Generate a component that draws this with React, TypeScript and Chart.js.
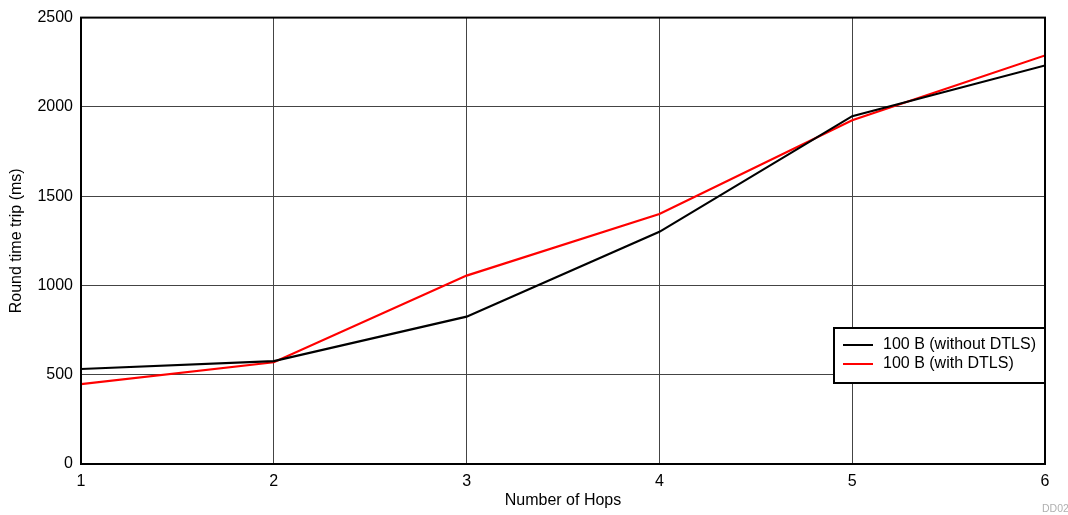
import React, { useEffect, useRef } from "react";
import { Chart, registerables } from "chart.js";

Chart.register(...registerables);

const hops = [1, 2, 3, 4, 5, 6];
const withoutDtls = [532, 576, 825, 1300, 1948, 2232];
const withDtls = [447, 570, 1055, 1400, 1925, 2288];
const seriesLabels = ["100 B (without DTLS)", "100 B (with DTLS)"];
const seriesColors = ["#000000", "#ff0000"];
const yTicks = [0, 500, 1000, 1500, 2000, 2500];
const xTitle = "Number of Hops";
const yTitle = "Round time trip (ms)";
const footnote = "DD02";

const FONT = "'Liberation Sans', Arial, sans-serif";
const FS = 16;

const decorPlugin = {
  id: "decor",
  afterDraw(chart: any) {
    const { ctx, chartArea } = chart;
    const { left, right, top, bottom } = chartArea;
    ctx.save();
    ctx.strokeStyle = "#000";
    ctx.lineWidth = 2;
    ctx.strokeRect(left, top, right - left, bottom - top);
    ctx.fillStyle = "#000";
    ctx.font = `${FS}px ${FONT}`;
    ctx.textAlign = "center";
    ctx.textBaseline = "middle";
    ctx.fillText(xTitle, (left + right) / 2, 501);
    ctx.save();
    ctx.translate(17, (top + bottom) / 2);
    ctx.rotate(-Math.PI / 2);
    ctx.fillText(yTitle, 0, 0);
    ctx.restore();
    ctx.fillStyle = "#b0b0b0";
    ctx.font = `10.5px ${FONT}`;
    ctx.textAlign = "left";
    ctx.fillText(footnote, 1042, 509);
    const bx = 834, by = 328, bw = 211, bh = 55;
    ctx.fillStyle = "#fff";
    ctx.fillRect(bx, by, bw, bh);
    ctx.strokeStyle = "#000";
    ctx.lineWidth = 2;
    ctx.strokeRect(bx, by, bw, bh);
    ctx.font = `${FS}px ${FONT}`;
    ctx.textBaseline = "middle";
    const rows = [345, 364];
    seriesLabels.forEach((lab, i) => {
      ctx.strokeStyle = seriesColors[i];
      ctx.lineWidth = 2;
      ctx.beginPath();
      ctx.moveTo(843, rows[i]);
      ctx.lineTo(873, rows[i]);
      ctx.stroke();
      ctx.fillStyle = "#000";
      ctx.fillText(lab, 883, rows[i]);
    });
    ctx.restore();
  },
};

export default function App() {
  const ref = useRef<HTMLCanvasElement | null>(null);
  useEffect(() => {
    document.body.style.margin = "0";
    const chart = new Chart(ref.current as HTMLCanvasElement, {
      type: "line",
      data: {
        datasets: [
          {
            label: seriesLabels[0],
            data: hops.map((h, i) => ({ x: h, y: withoutDtls[i] })),
            borderColor: seriesColors[0],
            borderWidth: 2.2,
            pointRadius: 0,
            tension: 0,
          },
          {
            label: seriesLabels[1],
            data: hops.map((h, i) => ({ x: h, y: withDtls[i] })),
            borderColor: seriesColors[1],
            borderWidth: 2.2,
            pointRadius: 0,
            tension: 0,
          },
        ],
      },
      options: {
        animation: false,
        responsive: false,
        layout: { padding: { left: 0, top: 16, right: 23, bottom: 0 } },
        plugins: { legend: { display: false }, tooltip: { enabled: false } },
        scales: {
          x: {
            type: "linear",
            min: 1,
            max: 6,
            afterFit: (s: any) => {
              s.height = 51;
            },
            afterBuildTicks: (s: any) => {
              s.ticks = hops.map((v) => ({ value: v }));
            },
            ticks: {
              color: "#000",
              font: { family: FONT, size: FS },
              padding: 8,
              maxRotation: 0,
              callback: (v: any) => String(v),
            },
            grid: { color: "#444", lineWidth: 1, drawTicks: false },
            border: { display: false },
          },
          y: {
            min: 0,
            max: 2500,
            afterFit: (s: any) => {
              s.width = 81;
            },
            afterBuildTicks: (s: any) => {
              s.ticks = yTicks.map((v) => ({ value: v }));
            },
            ticks: {
              color: "#000",
              font: { family: FONT, size: FS },
              padding: 8,
              callback: (v: any) => String(v),
            },
            grid: { color: "#444", lineWidth: 1, drawTicks: false },
            border: { display: false },
          },
        },
      },
      plugins: [decorPlugin],
    });
    return () => chart.destroy();
  }, []);
  return (
    <div style={{ width: 1068, height: 515 }}>
      <canvas ref={ref} width={1068} height={515} style={{ display: "block" }} />
    </div>
  );
}
